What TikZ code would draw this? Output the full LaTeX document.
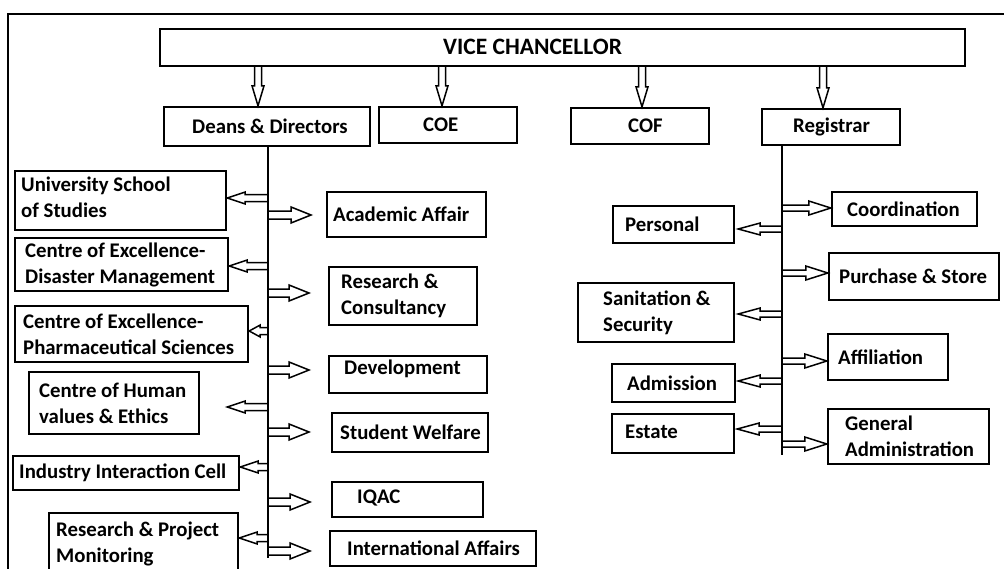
\documentclass[tikz,border=0pt]{standalone}
\usepackage{fontspec}
\setmainfont{Carlito}
\usetikzlibrary{calc}
\tikzset{
  x=1pt, y=-1pt,
  box/.style={draw, line width=2.4, inner sep=0},
  txt/.style={inner sep=0, align=left, font=\bfseries\fontsize{20.8}{26}\selectfont},
  trunk/.style={line width=2.6},
  blk/.style n args={3}{line width=1.5, to path={
    -- ($(\tikztostart)!#1!90:(\tikztotarget)$)
    -- ($(\tikztotarget)!#3!(\tikztostart)!#1!-90:(\tikztostart)$)
    -- ($(\tikztotarget)!#3!(\tikztostart)!#2!-90:(\tikztostart)$)
    -- (\tikztotarget)
    -- ($(\tikztotarget)!#3!(\tikztostart)!#2!90:(\tikztostart)$)
    -- ($(\tikztotarget)!#3!(\tikztostart)!#1!90:(\tikztostart)$)
    -- ($(\tikztostart)!#1!-90:(\tikztotarget)$) -- cycle}},
  rarrow/.style={blk={4pt}{8pt}{20pt}},
  larrow/.style={blk={3.5pt}{6pt}{18pt}},
  sarrow/.style={blk={3.5pt}{6pt}{11pt}},
  rrarrow/.style={blk={3pt}{7pt}{22pt}},
  rlarrow/.style={blk={3pt}{6pt}{22pt}},
  varrow/.style={blk={3.5pt}{6pt}{20pt}},
}
% \orgbox{name}{x1}{y1}{x2}{y2}{text x}{text dy}{text}
\newcommand\orgbox[8]{%
  \node[box, minimum width={#4-#2}, minimum height={#5-#3}] (#1) at ({(#2+#4)/2},{(#3+#5)/2}) {};
  \node[txt, anchor=west] (#1-t) at ($(#6,0 |- #1.west)+(0,#7)$) {#8};
}
\begin{document}
\begin{tikzpicture}
\path[use as bounding box, clip] (0,0) rectangle (1004,568);
\fill[white] (0,0) rectangle (1004,568);
% outer frame
\draw[line width=2.2] (8,590) -- (8,14) -- (1020,14);

% top level
\node[box, minimum width=805, minimum height=37] (vc) at (562.5,47.5) {};
\node[txt, anchor=west, font=\bfseries\fontsize{23.5}{28}\selectfont] (vc-t) at (443,47) {VICE CHANCELLOR};
\orgbox{dd}{164}{107}{370}{146}{192}{0}{Deans \& Directors}
\orgbox{coe}{379}{107}{517}{143}{423}{0}{COE}
\orgbox{cof}{571}{108}{709}{144}{628}{0}{COF}
\orgbox{reg}{762}{109}{900}{145}{793}{0}{Registrar}

\coordinate (v1) at (258,66);
\coordinate (v2) at (442,66);
\coordinate (v3) at (642,66);
\coordinate (v4) at (823,66);
\draw[varrow] (v1) to (v1 |- dd.north);
\draw[varrow] (v2) to (v2 |- coe.north);
\draw[varrow] (v3) to (v3 |- cof.north);
\draw[varrow] (v4) to (v4 |- reg.north);

% Deans side boxes
\orgbox{uss}{15}{171}{226}{230}{21}{-3}{University School\\of Studies}
\orgbox{dis}{15}{238}{228}{291}{25}{0}{Centre of Excellence-\\Disaster Management}
\orgbox{pha}{15}{306}{248}{362}{23}{0}{Centre of Excellence-\\Pharmaceutical Sciences}
\orgbox{hum}{29}{372}{199}{434}{39}{0}{Centre of Human\\values \& Ethics}
\orgbox{ind}{13}{456}{239}{490}{19}{0}{Industry Interaction Cell}
\orgbox{rpm}{49}{513}{238}{576}{56}{-1}{Research \& Project\\Monitoring}

\orgbox{aca}{327}{192}{486}{237}{333}{0}{Academic Affair}
\orgbox{rc}{329}{267}{477}{325}{341}{0}{Research \&\\Consultancy}
\orgbox{dev}{329}{356}{487}{393}{344}{-6}{Development}
\orgbox{sw}{332}{413}{488}{452}{340}{0}{Student Welfare}
\orgbox{iq}{332}{482}{483}{517}{357}{-2}{IQAC}
\orgbox{ia}{330}{531}{536}{566}{347}{0}{International Affairs}

% Registrar side boxes
\orgbox{per}{613}{206}{734}{243}{625}{0}{Personal}
\orgbox{san}{578}{283}{734}{342}{603}{0}{Sanitation \&\\Security}
\orgbox{adm}{612}{364}{735}{402}{627}{0}{Admission}
\orgbox{est}{612}{414}{734}{453}{625}{-2}{Estate}
\orgbox{coo}{832}{192}{977}{226}{847}{0}{Coordination}
\orgbox{pur}{829}{253}{999}{300}{839}{0}{Purchase \& Store}
\orgbox{aff}{828}{334}{948}{380}{838}{0}{Affiliation}
\orgbox{gen}{828}{409}{989}{464}{845}{0}{General\\Administration}

% Deans trunk
\coordinate (dtop) at (268,146);
\coordinate (dbot) at (268,558);
\draw[trunk] (dtop) -- (dbot);
\coordinate (a1) at (268,198);
\coordinate (a2) at (268,266);
\coordinate (a3) at (268,331);
\coordinate (a4) at (268,407);
\coordinate (a5) at (268,467);
\coordinate (a6) at (268,538);
\draw[larrow] (a1) to (a1 -| uss.east);
\draw[larrow] (a2) to (a2 -| dis.east);
\draw[sarrow] (a3) to (a3 -| pha.east);
\draw[larrow] (a4) to ($(a4 -| hum.east)+(27,0)$);
\draw[larrow] (a5) to (a5 -| ind.east);
\draw[larrow] (a6) to (a6 -| rpm.east);
\coordinate (b1) at (268,215);
\coordinate (b2) at (268,293);
\coordinate (b3) at (268,370);
\coordinate (b4) at (268,432);
\coordinate (b5) at (268,502);
\coordinate (b6) at (268,551);
\draw[rarrow] (b1) to ($(b1)+(43,0)$);
\draw[rarrow] (b2) to ($(b2)+(41,0)$);
\draw[rarrow] (b3) to ($(b3)+(41,0)$);
\draw[rarrow] (b4) to ($(b4)+(41,0)$);
\draw[rarrow] (b5) to ($(b5)+(42,0)$);
\draw[rarrow] (b6) to ($(b6)+(42,0)$);

% Registrar trunk
\coordinate (rtop) at (782,145);
\coordinate (rbot) at (782,455);
\draw[trunk] (rtop) -- (rbot);
\coordinate (c1) at (782,229);
\coordinate (c2) at (782,314);
\coordinate (c3) at (782,381);
\coordinate (c4) at (782,429);
\draw[rlarrow] (c1) to ($(c1 -| per.east)+(3,0)$);
\draw[rlarrow] (c2) to ($(c2 -| san.east)+(3,0)$);
\draw[rlarrow] (c3) to ($(c3 -| adm.east)+(2,0)$);
\draw[rlarrow] (c4) to ($(c4 -| est.east)+(2,0)$);
\coordinate (e1) at (782,208);
\coordinate (e2) at (782,273);
\coordinate (e3) at (782,361);
\coordinate (e4) at (782,444);
\draw[rrarrow] (e1) to (e1 -| coo.west);
\draw[rrarrow] (e2) to (e2 -| pur.west);
\draw[rrarrow] (e3) to (e3 -| aff.west);
\draw[rrarrow] (e4) to (e4 -| gen.west);
\end{tikzpicture}
\end{document}
